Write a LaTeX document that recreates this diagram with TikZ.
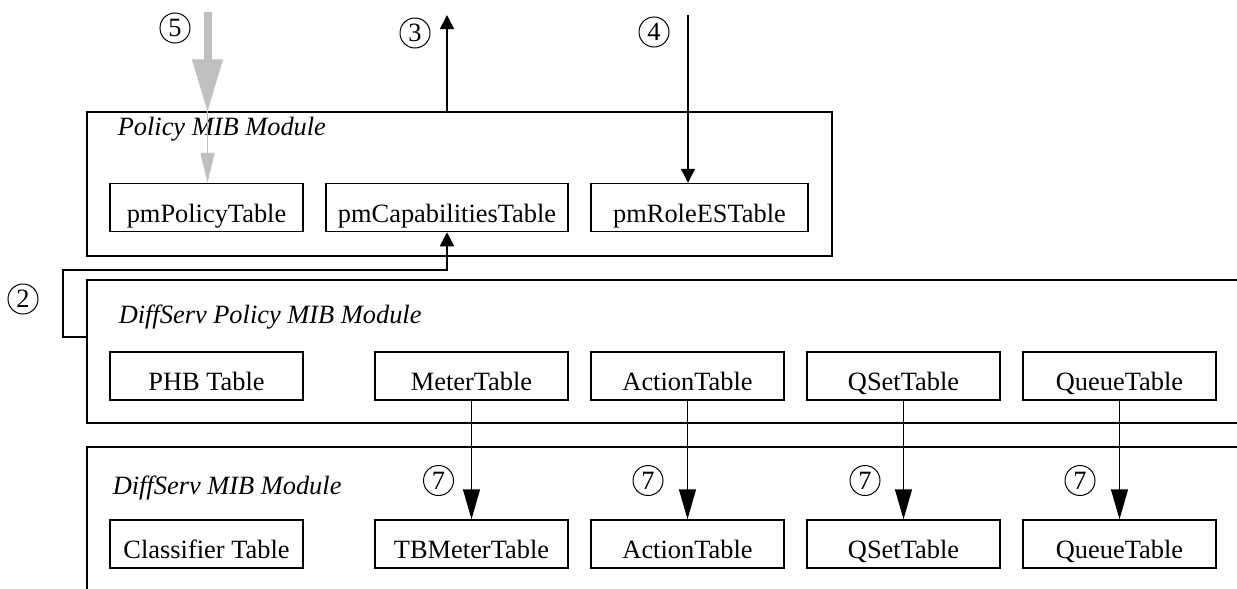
\documentclass[tikz,border=0pt]{standalone}
\usepackage{fontspec}
\setmainfont{Liberation Serif}
\usepackage{tikz}
\usetikzlibrary{arrows.meta}
\definecolor{flechagris}{gray}{0.75}

\begin{document}
\begin{tikzpicture}[x=0.5pt, y=-0.5pt, line width=0.75pt,
        font=\fontsize{13.2}{15}\selectfont,
        tabla/.style={draw, minimum height=24pt, inner sep=2pt, text height=14.5pt, text depth=0pt},
        titulo/.style={anchor=west, inner sep=0pt, font=\fontsize{13.2}{15}\selectfont\itshape},
        num/.style={draw, circle, line width=0.5pt, minimum size=15pt, inner sep=0pt},
        fl/.style={-{Triangle[length=7pt, width=7pt]}},
        flg/.style={-{Triangle[length=15pt, width=8.5pt]}}]
        \useasboundingbox (0,0) rectangle (1237,589);

        % Policy MIB Module
        \node[draw, minimum width=372.5pt, minimum height=72pt] (polmod) at (459.5,184) {};
        \node[titulo] (poltit) at (117,129) {Policy MIB Module};
        \node[tabla, minimum width=96.5pt] (pmpolicy) at (206.5,207.5) {pmPolicyTable};
        \node[tabla, minimum width=121pt] (pmcap) at (447,207.5) {pmCapabilitiesTable};
        \node[tabla, minimum width=108.5pt] (pmrole) at (699.5,207.5) {pmRoleESTable};

        % DiffServ Policy MIB Module (abierto a la derecha)
        \draw (1237,280) -- (87,280) -- (87,423) -- (1237,423);
        \coordinate (dspizq) at (87,337);
        \node[titulo] (dsptit) at (118,317) {DiffServ Policy MIB Module};
        \node[tabla, minimum width=96.5pt] (phb) at (206.5,376) {PHB Table};

        % DiffServ MIB Module
        \draw (1237,447) -- (87,447) -- (87,600);
        \node[titulo] (dstit) at (112,488) {DiffServ MIB Module};
        \node[tabla, minimum width=96.5pt] (clasif) at (206.5,544) {Classifier Table};

        % tablas correspondientes y flechas 7
        \foreach \n/\x/\xn/\arriba/\abajo in {meter/471.5/438.5/MeterTable/TBMeterTable,
                action/687.5/648/ActionTable/ActionTable,
                qset/903.5/865/QSetTable/QSetTable,
                queue/1119.5/1080/QueueTable/QueueTable} {
            \node[tabla, minimum width=96.5pt] (p\n) at (\x,376) {\arriba};
            \node[tabla, minimum width=96.5pt] (d\n) at (\x,544) {\abajo};
            \draw[flg] (p\n) -- (d\n);
            \node[num] (n7\n) at (\xn,480.5) {7};
        }

        % flechas 3 y 4
        \coordinate (sal3) at (447,15);
        \draw[fl] (pmcap |- polmod.north) -- (sal3);
        \node[num] (n3) at (415,33) {3};
        \coordinate (ent4) at (688,15);
        \draw[fl] (ent4) -- (ent4 |- pmrole.north);
        \node[num] (n4) at (654,32) {4};

        % flecha gris 5
        \coordinate (ent5) at (207.5,12);
        \draw[flechagris, line width=4pt, -{Triangle[length=26pt, width=15.5pt, line width=0.5pt]}] (ent5) -- (ent5 |- polmod.north);
        \draw[flechagris, line width=0.8pt, -{Triangle[length=15pt, width=7pt]}] (ent5 |- polmod.north) -- (ent5 |- pmpolicy.north);
        \node[num] (n5) at (175,28) {5};

        % flecha 2
        \coordinate (codo2) at (63,270);
        \draw[fl] (dspizq) -| (codo2) -| (pmcap.south);
        \node[num] (n2) at (23,299) {2};
    \end{tikzpicture}
\end{document}
